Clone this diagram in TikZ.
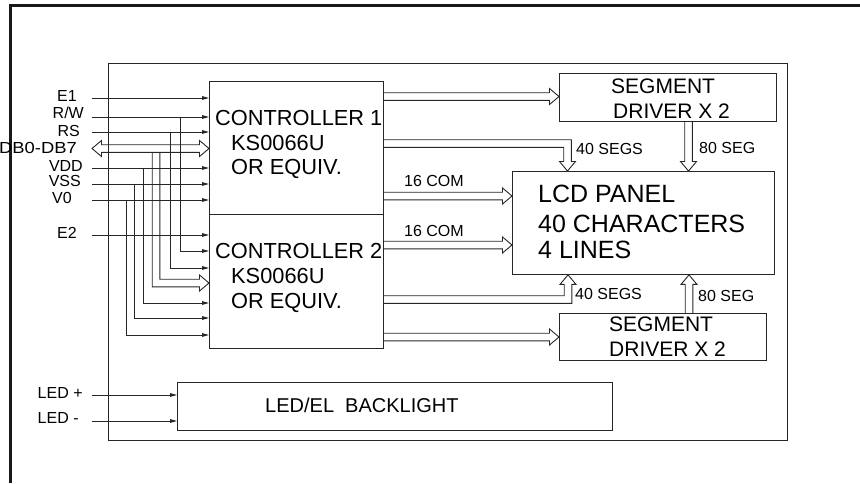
\documentclass[tikz,border=0pt]{standalone}
\usepackage{fontspec}
\setmainfont{Liberation Sans}
\usetikzlibrary{arrows.meta,calc}
\def\hS{3.8pt}
\def\hW{8pt}
\def\hL{9.5pt}
\tikzset{
  ln/.style={draw=black!85, line width=0.9pt},
  box/.style={ln, rectangle, inner sep=0pt, anchor=north west},
  sig/.style={ln, -{Triangle[length=7pt,width=3.6pt]}},
  hol/.style={ln, line join=miter},
  lbl/.style={inner sep=0pt, font=\fontsize{16}{18}\selectfont, text height=11.4pt, text depth=0pt},
  big/.style={inner sep=0pt, anchor=west, font=\fontsize{21.8}{24}\selectfont, text height=15.6pt, text depth=0pt},
  seg/.style={inner sep=0pt, anchor=west, font=\fontsize{21}{24}\selectfont, text height=15pt, text depth=0pt},
  lcdt/.style={inner sep=0pt, anchor=west, font=\fontsize{25}{28}\selectfont, text height=17.9pt, text depth=0pt},
  blt/.style={inner sep=0pt, anchor=west, font=\fontsize{20}{24}\selectfont, text height=14.3pt, text depth=0pt},
  hollowr/.style={hol, to path={let \p1=(\tikztostart), \p2=(\tikztotarget) in
    (\x1,\y1+\hS) -- (\x2-\hL,\y1+\hS) -- (\x2-\hL,\y1+\hW) -- (\x2,\y1) -- (\x2-\hL,\y1-\hW) -- (\x2-\hL,\y1-\hS) -- (\x1,\y1-\hS)}},
  hollowd/.style={hol, to path={let \p1=(\tikztostart), \p2=(\tikztotarget) in
    (\x1-\hS,\y1) -- (\x1-\hS,\y2+\hL) -- (\x1-\hW,\y2+\hL) -- (\x1,\y2) -- (\x1+\hW,\y2+\hL) -- (\x1+\hS,\y2+\hL) -- (\x1+\hS,\y1)}},
  hollowu/.style={hol, to path={let \p1=(\tikztostart), \p2=(\tikztotarget) in
    (\x1-\hS,\y1) -- (\x1-\hS,\y2-\hL) -- (\x1-\hW,\y2-\hL) -- (\x1,\y2) -- (\x1+\hW,\y2-\hL) -- (\x1+\hS,\y2-\hL) -- (\x1+\hS,\y1)}},
  hollowrd/.style={hol, to path={let \p1=(\tikztostart), \p2=(\tikztotarget) in
    (\x1,\y1+\hS) -- (\x2+\hS,\y1+\hS) -- (\x2+\hS,\y2+\hL) -- (\x2+\hW,\y2+\hL) -- (\x2,\y2) -- (\x2-\hW,\y2+\hL) -- (\x2-\hS,\y2+\hL) -- (\x2-\hS,\y1-\hS) -- (\x1,\y1-\hS)}},
  hollowru/.style={hol, to path={let \p1=(\tikztostart), \p2=(\tikztotarget) in
    (\x1,\y1+\hS) -- (\x2-\hS,\y1+\hS) -- (\x2-\hS,\y2-\hL) -- (\x2-\hW,\y2-\hL) -- (\x2,\y2) -- (\x2+\hW,\y2-\hL) -- (\x2+\hS,\y2-\hL) -- (\x2+\hS,\y1-\hS) -- (\x1,\y1-\hS)}},
  hollowlr/.style={hol, to path={let \p1=(\tikztostart), \p2=(\tikztotarget) in
    (\x1,\y1) -- (\x1+\hL,\y1+\hW) -- (\x1+\hL,\y1+\hS) -- (\x2-\hL,\y1+\hS) -- (\x2-\hL,\y1+\hW) -- (\x2,\y1) -- (\x2-\hL,\y1-\hW) -- (\x2-\hL,\y1-\hS) -- (\x1+\hL,\y1-\hS) -- (\x1+\hL,\y1-\hW) -- cycle}},
  hollowdr/.style={hol, to path={let \p1=(\tikztostart), \p2=(\tikztotarget) in
    (\x1-\hS,\y1) -- (\x1-\hS,\y2-\hS) -- (\x2-\hL,\y2-\hS) -- (\x2-\hL,\y2-\hW) -- (\x2,\y2) -- (\x2-\hL,\y2+\hW) -- (\x2-\hL,\y2+\hS) -- (\x1+\hS,\y2+\hS) -- (\x1+\hS,\y1)}},
}
\begin{document}
\begin{tikzpicture}[x=1pt,y=-1pt]
\useasboundingbox (0,0) rectangle (860,483);
% outer partial frame
\draw[line width=2.2pt, black!90, line join=miter] (10.5,483) -- (10.5,5.5) -- (860,5.5);
% boxes
\node[box, minimum width=679pt, minimum height=377pt] (frame) at (108,63) {};
\node[box, minimum width=174pt, minimum height=133pt] (c1) at (209,81) {};
\node[box, minimum width=174pt, minimum height=134pt] (c2) at (209,214) {};
\node[box, minimum width=217pt, minimum height=48pt] (sd1) at (559,73) {};
\node[box, minimum width=262pt, minimum height=103pt] (lcd) at (512,171) {};
\node[box, minimum width=207pt, minimum height=47pt] (sd2) at (559,313) {};
\node[box, minimum width=435pt, minimum height=48pt] (bl) at (177,382) {};
% box texts
\node[big] (t1a) at (215,118) {CONTROLLER 1};
\node[big] (t1b) at (231,142.5) {KS0066U};
\node[big] (t1c) at (231,167) {OR EQUIV.};
\node[big] (t2a) at (215,251) {CONTROLLER 2};
\node[big] (t2b) at (231,276) {KS0066U};
\node[big] (t2c) at (231,300.5) {OR EQUIV.};
\node[seg] (s1a) at (611,85.5) {SEGMENT};
\node[seg] (s1b) at (613,110.5) {DRIVER X 2};
\node[seg] (s2a) at (609,323.5) {SEGMENT};
\node[seg] (s2b) at (609,349) {DRIVER X 2};
\node[lcdt] (la) at (538,194) {LCD PANEL};
\node[lcdt] (lb) at (538,223.5) {40 CHARACTERS};
\node[lcdt] (lc) at (538,250) {4 LINES};
\node[blt] (blx) at (265,405) {LED/EL\ \ BACKLIGHT};
% small connector labels
\node[lbl, anchor=west] (com1) at (404,181) {16 COM};
\node[lbl, anchor=west] (com2) at (404,231) {16 COM};
\node[lbl, anchor=west] (sg1) at (576,148.5) {40 SEGS};
\node[lbl, anchor=west] (sg2) at (575,293.5) {40 SEGS};
\node[lbl, anchor=west] (eg1) at (699,148) {80 SEG};
\node[lbl, anchor=west] (eg2) at (698,296) {80 SEG};
% left labels
\node[lbl, anchor=east] (nE1) at (77,95.5) {E1};
\node[lbl, anchor=east] (nRW) at (84,113) {R/W};
\node[lbl, anchor=east] (nRS) at (80,131) {RS};
\node[lbl, anchor=east] (nDB) at (77,148) {\scalebox{1.15}[1]{DB0-DB7}};
\node[lbl, anchor=east] (nVDD) at (83,165.5) {VDD};
\node[lbl, anchor=east] (nVSS) at (81,180.5) {VSS};
\node[lbl, anchor=east] (nV0) at (72,197.5) {V0};
\node[lbl, anchor=east] (nE2) at (77,233) {E2};
\node[lbl, anchor=west] (nLp) at (37.5,392.5) {LED +};
\node[lbl, anchor=west] (nLm) at (37.5,418) {LED -};
% signal start points
\coordinate (sE1) at (92,98);
\coordinate (sRW) at (92,117);
\coordinate (sRS) at (92,132);
\coordinate (sDB) at (92,148.5);
\coordinate (sVDD) at (92,168);
\coordinate (sVSS) at (92,184);
\coordinate (sV0) at (92,200);
\coordinate (sE2) at (92,235);
\coordinate (sLp) at (92,395);
\coordinate (sLm) at (92,421);
% controller 1 inputs
\draw[sig] (sE1) -- (sE1 -| c1.west);
\draw[sig] (sRW) -- (sRW -| c1.west);
\draw[sig] (sRS) -- (sRS -| c1.west);
\draw[sig] (sVDD) -- (sVDD -| c1.west);
\draw[sig] (sVSS) -- (sVSS -| c1.west);
\draw[sig] (sV0) -- (sV0 -| c1.west);
\draw[hollowlr] (sDB) to (sDB -| c1.west);
% controller 2 inputs
\draw[sig] (sE2) -- (sE2 -| c2.west);
\draw[sig] (sRW -| 180,0) |- (c2.west |- 0,251);
\draw[sig] (sRS -| 170,0) |- (c2.west |- 0,268);
\draw[sig] (sVDD -| 143,0) |- (c2.west |- 0,303);
\draw[sig] (sVSS -| 134,0) |- (c2.west |- 0,318);
\draw[sig] (sV0 -| 126,0) |- (c2.west |- 0,335);
\draw[hollowdr] (156,152.3) to (c2.west |- 0,283);
% backlight inputs
\draw[sig] (sLp) -- (sLp -| bl.west);
\draw[sig] (sLm) -- (sLm -| bl.west);
% buses
\draw[hollowr] (c1.east |- 0,96.5) to (sd1.west |- 0,96.5);
\draw[hollowr] (c1.east |- 0,196) to (lcd.west |- 0,196);
\draw[hollowr] (c2.east |- 0,245) to (lcd.west |- 0,245);
\draw[hollowr] (c2.east |- 0,337) to (sd2.west |- 0,337);
\draw[hollowrd] (c1.east |- 0,143.5) to (lcd.north -| 567.5,0);
\draw[hollowd] (sd1.south -| 688.5,0) to (lcd.north -| 688.5,0);
\draw[hollowru] (c2.east |- 0,299.5) to (lcd.south -| 568,0);
\draw[hollowu] (sd2.north -| 689,0) to (lcd.south -| 689,0);
\end{tikzpicture}
\end{document}
